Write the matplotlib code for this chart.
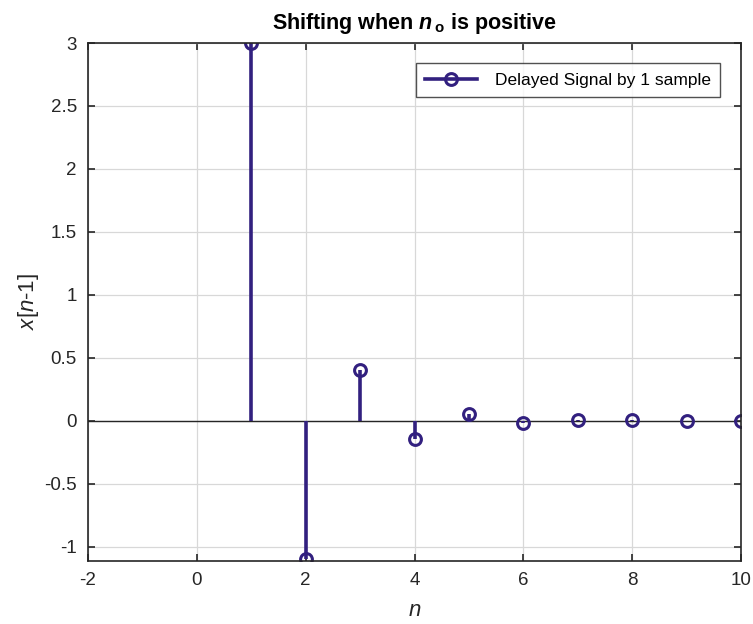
import matplotlib
matplotlib.use("Agg")
import matplotlib.pyplot as plt
from matplotlib.lines import Line2D
from matplotlib.legend_handler import HandlerLine2D
import numpy as np

n = [1, 2, 3, 4, 5, 6, 7, 8, 9, 10]
x_shift = [3.0, -1.1, 0.405, -0.148, 0.054, -0.02, 0.007, 0.0027, 0.001, 0.0004]
xticks = [-2, 0, 2, 4, 6, 8, 10]
yticks = [-1, -0.5, 0, 0.5, 1, 1.5, 2, 2.5, 3]
ytick_labels = ['-1', '-0.5', '0', '0.5', '1', '1.5', '2', '2.5', '3']

plt.rcParams['font.family'] = ['Liberation Sans', 'DejaVu Sans']
plt.rcParams['mathtext.fontset'] = 'custom'
plt.rcParams['mathtext.rm'] = 'Liberation Sans'
plt.rcParams['mathtext.it'] = 'Liberation Sans:italic'
plt.rcParams['mathtext.bf'] = 'Liberation Sans:bold'
plt.rcParams['mathtext.bfit'] = 'Liberation Sans:bold:italic'
color = '#32207F'
fig = plt.figure(figsize=(7.53, 6.24), dpi=100)
ax = fig.add_axes([88/753, 1-561/624, (741-88)/753, (561-43)/624])

ml, sl, bl = ax.stem(n, x_shift, linefmt='-', markerfmt='o', basefmt=' ')
plt.setp(sl, color=color, linewidth=2.6)
plt.setp(ml, markerfacecolor='none', markeredgecolor=color, markersize=8.5,
         markeredgewidth=2.2)
ax.axhline(0, color='#262626', linewidth=1.0, zorder=1)

ax.set_xlim(-2, 10)
ax.set_ylim(-1.114, 3)
ax.set_xticks(xticks)
ax.set_xticklabels([str(t) for t in xticks])
ax.set_yticks(yticks)
ax.set_yticklabels(ytick_labels)
ax.grid(True, color='#d8d8d8', linewidth=0.9)
ax.set_axisbelow(True)
ax.tick_params(direction='in', length=5, width=1.2, labelsize=13.5, colors='#262626',
               top=True, right=True, pad=8)
for s in ax.spines.values():
    s.set_color('#262626')
    s.set_linewidth(1.2)

ax.set_xlabel(r'$\it{n}$', fontsize=16, color='#262626', labelpad=8)
ax.set_ylabel(r'$\it{x}$[$\it{n}$-1]', fontsize=16, color='#262626', labelpad=2)
ax.set_title(r'Shifting when $\mathbfit{n}_{\,\mathbf{o}}$ is positive', fontsize=15.5,
             fontweight='bold', color='black', pad=10)


class EndMarkerHandler(HandlerLine2D):
    def get_xdata(self, legend, xdescent, ydescent, width, height, fontsize):
        xdata = np.array([-xdescent, -xdescent + width])
        xm = np.array([-xdescent + width])
        return xdata, xm


proxy = Line2D([], [], color=color, linewidth=2.6, marker='o', markersize=8.5,
               markerfacecolor='none', markeredgecolor=color, markeredgewidth=2.2)
leg = ax.legend([proxy], ['Delayed Signal by 1 sample'], loc='upper right',
                fontsize=12.5, frameon=True, fancybox=False, edgecolor='#262626',
                borderpad=0.55, handlelength=3.0, handletextpad=1.0,
                borderaxespad=0, bbox_to_anchor=(0.968, 0.961),
                handler_map={proxy: EndMarkerHandler()})
leg.get_frame().set_linewidth(1.0)

fig.savefig('out.png', dpi=100)
